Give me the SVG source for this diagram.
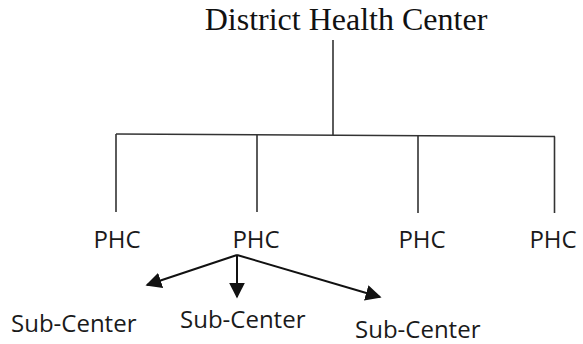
<svg xmlns="http://www.w3.org/2000/svg" width="583" height="344" viewBox="0 0 583 344">
  <style>
    .title { font-family: "Liberation Serif", "Times New Roman", serif; font-size: 32px; fill: #111; }
    .lbl { font-family: "Open Sans", "Noto Sans", sans-serif; font-size: 24px; fill: #1a1a1a; }
    .tree { stroke: #333; stroke-width: 1.6; fill: none; }
    .arr { stroke: #111; stroke-width: 2; fill: none; }
  </style>
  <defs>
    <marker id="head" viewBox="0 0 10 10" refX="9" refY="5" markerWidth="8" markerHeight="8" markerUnits="strokeWidth" orient="auto">
      <path d="M0,0 L10,5 L0,10 z" fill="#111"/>
    </marker>
  </defs>
  <rect width="583" height="344" fill="#fff"/>

  <g id="district">
    <text class="title" x="346" y="30" text-anchor="middle">District Health Center</text>
  </g>

  <g id="connectors">
    <line class="tree" x1="333" y1="40" x2="333" y2="135"/>
    <line class="tree" x1="116" y1="134" x2="555" y2="136.5"/>
    <line class="tree" x1="116" y1="134" x2="116" y2="212"/>
    <line class="tree" x1="257" y1="135" x2="257" y2="212"/>
    <line class="tree" x1="418" y1="135.5" x2="418" y2="213"/>
    <line class="tree" x1="554.5" y1="136.5" x2="554.5" y2="213"/>
    <line class="arr" x1="237" y1="255" x2="147" y2="285" marker-end="url(#head)"/>
    <line class="arr" x1="237" y1="255" x2="237" y2="297" marker-end="url(#head)"/>
    <line class="arr" x1="237" y1="255" x2="380" y2="297" marker-end="url(#head)"/>
  </g>

  <g id="phc1"><text class="lbl" x="117" y="248" text-anchor="middle">PHC</text></g>
  <g id="phc2"><text class="lbl" x="256" y="248" text-anchor="middle">PHC</text></g>
  <g id="phc3"><text class="lbl" x="422" y="248" text-anchor="middle">PHC</text></g>
  <g id="phc4"><text class="lbl" x="553" y="248" text-anchor="middle">PHC</text></g>

  <g id="sub1"><text class="lbl" x="11" y="332">Sub-Center</text></g>
  <g id="sub2"><text class="lbl" x="180" y="328">Sub-Center</text></g>
  <g id="sub3"><text class="lbl" x="355" y="338">Sub-Center</text></g>
</svg>
